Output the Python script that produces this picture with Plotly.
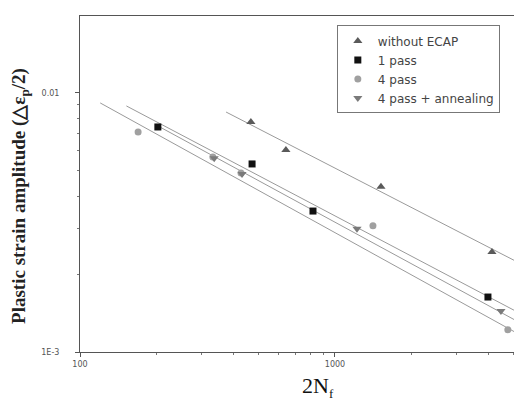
import plotly.graph_objects as go

# ---- data ----
series_names = ["without ECAP", "1 pass", "4 pass", "4 pass + annealing"]

ecap_x = [468, 642, 1515, 4128]
ecap_y = [0.00773, 0.00602, 0.00434, 0.00243]

p1_x = [202, 473, 820, 3981]
p1_y = [0.00739, 0.00532, 0.00350, 0.00163]

p4_x = [169, 332, 428, 1409, 4764]
p4_y = [0.00707, 0.00566, 0.00491, 0.00307, 0.00122]

p4a_x = [336, 432, 1220, 4477]
p4a_y = [0.00560, 0.00486, 0.00299, 0.00144]

# fitted lines (end points)
fit_ecap_x = [374, 5080]
fit_ecap_y = [0.00844, 0.00225]
fit_p1_x = [152, 5314]
fit_p1_y = [0.00891, 0.00141]
fit_p4_x = [120, 5713]
fit_p4_y = [0.00915, 0.00112]
fit_p4a_x = [202, 5610]
fit_p4a_y = [0.00746, 0.00126]

x_tickvals = [100, 1000]
x_ticktext = ["100", "1000"]
y_tickvals = [0.001, 0.01]
y_ticktext = ["1E-3", "0.01"]
x_minor = [200, 300, 400, 500, 600, 700, 800, 900, 2000, 3000, 4000, 5000]
y_minor = [0.002, 0.003, 0.004, 0.005, 0.006, 0.007, 0.008, 0.009]

fig = go.Figure()

line_style = dict(color="#9a9a9a", width=1)
for fx, fy in [(fit_ecap_x, fit_ecap_y), (fit_p1_x, fit_p1_y),
               (fit_p4_x, fit_p4_y), (fit_p4a_x, fit_p4a_y)]:
    fig.add_trace(go.Scatter(x=fx, y=fy, mode="lines", line=line_style,
                             showlegend=False, hoverinfo="skip"))

fig.add_trace(go.Scatter(x=ecap_x, y=ecap_y, mode="markers", name=series_names[0],
                         marker=dict(symbol="triangle-up", size=8, color="#5a5a5a")))
fig.add_trace(go.Scatter(x=p1_x, y=p1_y, mode="markers", name=series_names[1],
                         marker=dict(symbol="square", size=7, color="#111111")))
fig.add_trace(go.Scatter(x=p4_x, y=p4_y, mode="markers", name=series_names[2],
                         marker=dict(symbol="circle", size=7, color="#a0a0a0")))
fig.add_trace(go.Scatter(x=p4a_x, y=p4a_y, mode="markers", name=series_names[3],
                         marker=dict(symbol="triangle-down", size=8, color="#7a7a7a")))

axis_common = dict(
    type="log", showgrid=False, zeroline=False, showline=True, mirror=True,
    linecolor="#555555", linewidth=1, ticks="outside", ticklen=4,
    tickcolor="#555555", tickfont=dict(family="DejaVu Sans", size=8, color="#555555"),
)

fig.update_layout(
    width=522, height=401,
    margin=dict(l=72, r=1, t=8, b=57),
    paper_bgcolor="white", plot_bgcolor="white",
    xaxis=dict(range=[2, 3.761], tickmode="array", tickvals=x_tickvals,
               ticktext=x_ticktext, ticklabelstandoff=0,
               minor=dict(ticks="outside", ticklen=2, tickcolor="#777777",
                          tickmode="array", tickvals=x_minor),
               **axis_common),
    yaxis=dict(range=[-3, -1.703], tickmode="array", tickvals=y_tickvals,
               ticktext=y_ticktext, ticklabelstandoff=14,
               minor=dict(ticks="outside", ticklen=2, tickcolor="#777777",
                          tickmode="array", tickvals=y_minor),
               **axis_common),
    legend=dict(x=0.572, y=0.972, xanchor="left", yanchor="top",
                bgcolor="white", bordercolor="#777777", borderwidth=1,
                font=dict(family="DejaVu Sans", size=12, color="#444444"),
                itemwidth=30, tracegroupgap=0),
    showlegend=True,
)

fig.add_annotation(
    text="<b>Plastic strain amplitude (△ε<sub>p</sub>/2)</b>",
    xref="paper", yref="paper", x=-0.134, y=0.464,
    xanchor="center", yanchor="middle", textangle=-90, showarrow=False,
    font=dict(family="Liberation Serif", size=19, color="#222222"),
)
fig.add_annotation(
    text="2N<sub><span style='font-size:13px'>f</span></sub>",
    xref="paper", yref="paper", x=0.53, y=-0.058,
    xanchor="center", yanchor="top", showarrow=False,
    font=dict(family="Liberation Serif", size=22, color="#111111"),
)

fig.write_html("out.html")
